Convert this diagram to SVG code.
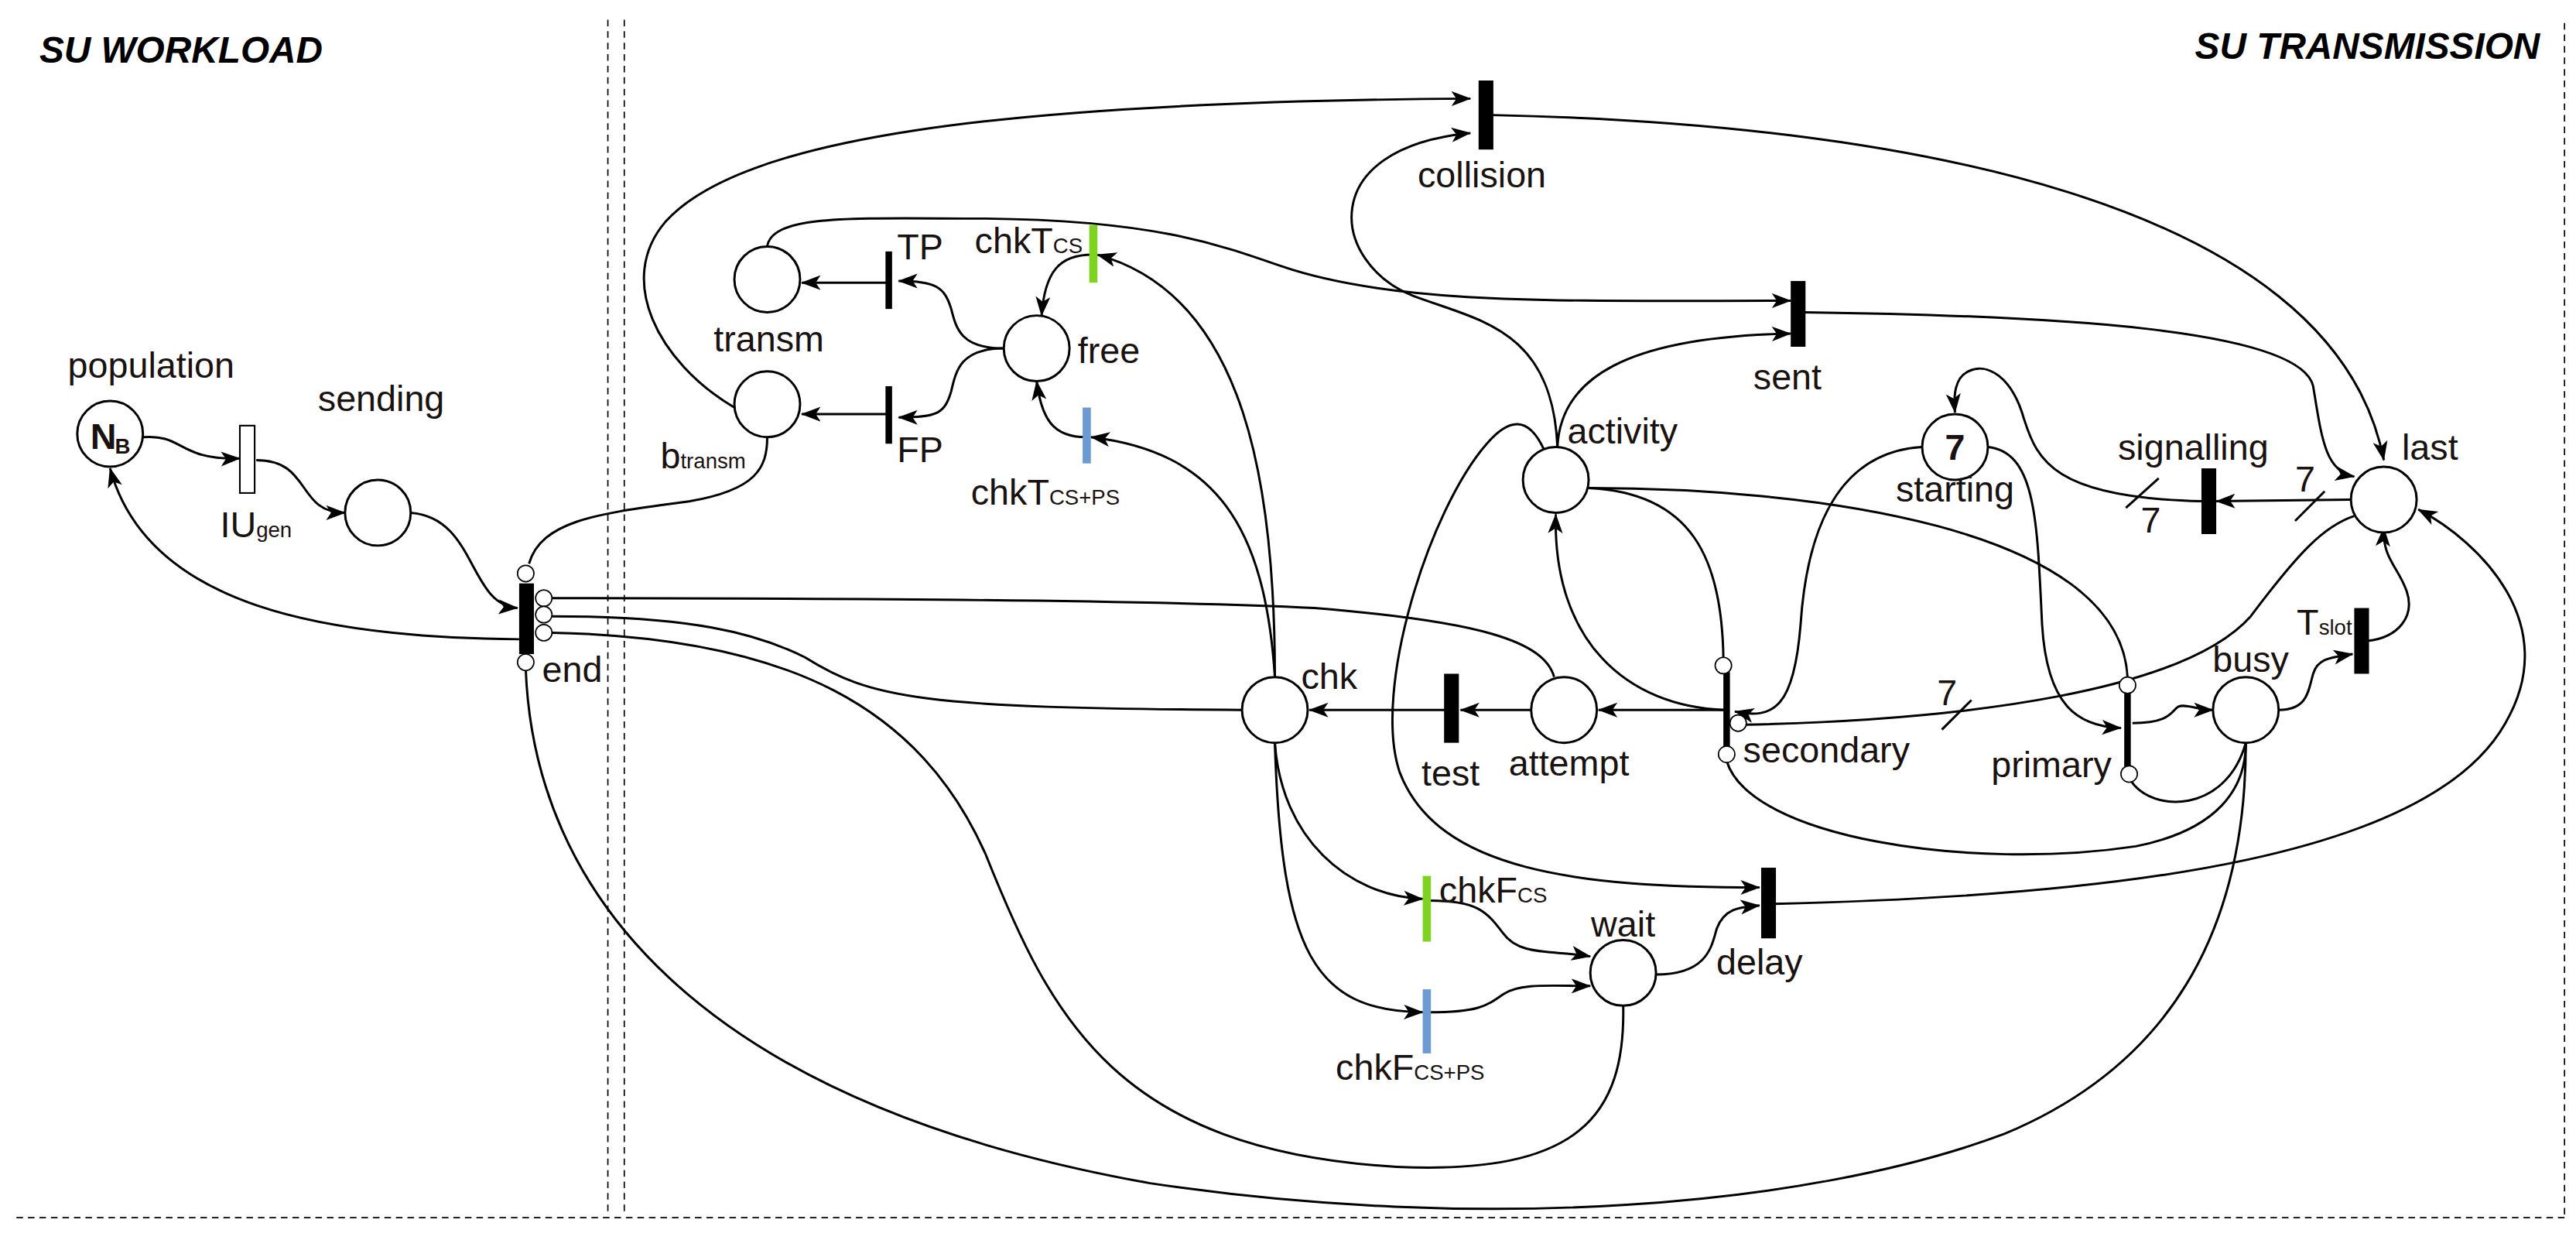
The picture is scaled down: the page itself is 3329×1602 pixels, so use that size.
<svg xmlns="http://www.w3.org/2000/svg" width="3329" height="1602" viewBox="0 0 3329 1602">
<defs>
<marker id="ar" markerWidth="12" markerHeight="10" refX="11.5" refY="4.5" orient="auto" markerUnits="userSpaceOnUse">
<path d="M0,0 L12,4.5 L0,9 L3,4.5 Z" fill="#000"/>
</marker>
<style>
.pl{fill:#fff;stroke:#000;stroke-width:1.4}
.inh{fill:#fff;stroke:#000;stroke-width:0.8}
.tr{fill:#000}
.e{fill:none;stroke:#000;stroke-width:1.4}
.a{marker-end:url(#ar)}
.d{fill:none;stroke:#000;stroke-width:0.8;stroke-dasharray:4,3}
text{font-family:"Liberation Sans",Arial,sans-serif;font-size:22px;fill:#1a1210}
.sub{font-size:13px}
.ttl{font-weight:bold;font-style:italic;font-size:22.5px;fill:#000}
</style>
</defs>
<rect width="3329" height="1602" fill="#fff"/>
<g transform="scale(2.1231)">
<g id="frame">
<line class="d" x1="370" y1="12" x2="370" y2="738"/>
<line class="d" x1="380" y1="12" x2="380" y2="738"/>
<line class="d" x1="1561" y1="14" x2="1561" y2="740"/>
<line class="d" x1="10" y1="741" x2="1561" y2="741"/>
<text class="ttl" x="24" y="38">SU WORKLOAD</text>
<text class="ttl" x="1546" y="36" text-anchor="end">SU TRANSMISSION</text>
</g>
<g id="connectors">
<path class="e a" d="M87,266 C112,264 108,280 146,279"/>
<path class="e a" d="M156,280 C190,280 180,312 210,312"/>
<path class="e a" d="M250,312 C290,315 285,368 315,370"/>
<path class="e a" d="M316,389 C200,388 90,370 67,285"/>
<path class="e" d="M322,343 C330,315 370,312 420,305 C460,298 467,285 467,266"/>
<path class="e" d="M336,364 C500,364 700,365 800,370 C900,378 940,390 946,412"/>
<path class="e" d="M336,375 C420,375 460,385 490,400 C530,425 560,431 756,432"/>
<path class="e" d="M336,385 C480,388 560,430 600,520 C640,620 680,700 850,710 C960,715 990,680 988,610"/>
<path class="e" d="M320,407 C325,540 420,670 700,720 C900,750 1100,735 1220,690 C1340,640 1367,540 1367,452"/>
<path class="e a" d="M541,172 L488,172"/>
<path class="e a" d="M541,252 L488,252"/>
<path class="e a" d="M611,212 C585,212 582,200 579,188 C575,175 570,171 547,171"/>
<path class="e a" d="M611,212 C585,212 582,225 579,238 C575,252 570,254 547,254"/>
<path class="e a" d="M665,155 C645,155 636,165 634,192"/>
<path class="e a" d="M661,266 C641,266 634,255 631,232"/>
<path class="e a" d="M776,412 C776,300 760,180 668,155"/>
<path class="e a" d="M776,412 C770,320 740,275 664,266"/>
<path class="e a" d="M467,150 C470,130 520,133 600,133 C700,134 740,148 780,162 C850,186 950,183 1090,183"/>
<path class="e a" d="M447,248 C400,220 375,170 405,135 C450,85 600,62 895,60"/>
<path class="e a" d="M948,272 C945,200 900,195 860,180 C810,160 800,90 895,81"/>
<path class="e a" d="M948,272 C950,230 990,205 1090,203"/>
<path class="e a" d="M908,70 C1150,75 1420,120 1451,280"/>
<path class="e a" d="M1098,190 C1250,192 1400,200 1408,235 C1413,265 1415,287 1433,290"/>
<path class="e a" d="M940,274 C930,252 918,255 905,270 C870,310 835,420 852,470 C875,530 960,540 1071,540"/>
<path class="e a" d="M1170,272 C1120,275 1100,320 1096,380 C1092,430 1080,438 1056,433"/>
<path class="e a" d="M1210,272 C1240,275 1240,320 1243,380 C1246,430 1265,442 1291,443"/>
<path class="e" d="M967,297 C1100,297 1290,320 1295,412"/>
<path class="e" d="M967,297 C1030,300 1048,340 1049,400"/>
<path class="e a" d="M1050,432 C990,430 945,390 947,313"/>
<path class="e a" d="M1049,432 L973,432"/>
<path class="e a" d="M932,432 L889,432"/>
<path class="e a" d="M880,432 L797,432"/>
<path class="e a" d="M776,452 C780,510 820,545 866,547"/>
<path class="e a" d="M776,452 C780,580 800,615 866,616"/>
<path class="e a" d="M870,548 C900,548 905,555 915,568 C925,582 945,578 968,582"/>
<path class="e a" d="M870,616 C900,616 905,612 915,605 C925,598 945,600 968,600"/>
<path class="e a" d="M1008,593 C1040,593 1042,575 1045,565 C1050,552 1060,552 1071,551"/>
<path class="e a" d="M1080,550 C1300,545 1480,520 1525,440 C1560,380 1510,330 1472,310"/>
<path class="e" d="M1051,463 C1065,510 1200,530 1300,515 C1350,505 1367,480 1367,452"/>
<path class="e" d="M1297,475 C1310,495 1355,495 1367,452"/>
<path class="e a" d="M1298,440 C1322,440 1322,432 1326,430 C1330,428 1338,432 1347,432"/>
<path class="e a" d="M1387,432 C1405,432 1405,420 1408,410 C1411,400 1420,400 1432,398"/>
<path class="e a" d="M1441,390 C1460,388 1470,375 1465,360 C1460,345 1450,340 1451,321"/>
<path class="e a" d="M1431,304 L1349,305"/>
<path class="e a" d="M1340,305 C1250,303 1240,280 1232,255 C1225,230 1210,220 1198,226 C1190,230 1189,240 1190,251"/>
<path class="e" d="M1062,441 C1200,438 1330,420 1370,375 C1400,335 1415,320 1433,314"/>
<line class="e" x1="1294" y1="309" x2="1314" y2="291"/>
<line class="e" x1="1397" y1="317" x2="1415" y2="299"/>
<line class="e" x1="1182" y1="444" x2="1200" y2="426"/>
<text x="1303" y="324">7</text>
<text x="1397" y="299">7</text>
<text x="1179" y="429">7</text>
</g>
<g id="population"><circle class="pl" cx="67" cy="264" r="20"/><text x="55" y="273" font-weight="bold" fill="#000">N</text><text x="70" y="276" class="sub" font-weight="bold" fill="#000">B</text><text x="92" y="230" text-anchor="middle">population</text></g>
<g id="IUgen"><rect x="146" y="259" width="9" height="41" fill="#fff" stroke="#000" stroke-width="1"/><text x="134" y="327">IU<tspan class="sub">gen</tspan></text></g>
<g id="sending"><circle class="pl" cx="230" cy="312" r="20"/><text x="232" y="250" text-anchor="middle">sending</text></g>
<g id="end"><rect class="tr" x="316" y="355" width="9" height="43"/><circle class="inh" cx="320" cy="349" r="5"/><circle class="inh" cx="331" cy="364" r="5"/><circle class="inh" cx="331" cy="374" r="5"/><circle class="inh" cx="331" cy="385" r="5"/><circle class="inh" cx="320" cy="403" r="5"/><text x="330" y="415">end</text></g>
<g id="transm"><circle class="pl" cx="467" cy="170" r="20"/><text x="468" y="214" text-anchor="middle">transm</text></g>
<g id="btransm"><circle class="pl" cx="467" cy="246" r="20"/><text x="402" y="285">b<tspan class="sub">transm</tspan></text></g>
<g id="TP"><rect class="tr" x="539" y="153" width="4" height="35"/><text x="546" y="158">TP</text></g>
<g id="FP"><rect class="tr" x="539" y="235" width="4" height="35"/><text x="546" y="281">FP</text></g>
<g id="free"><circle class="pl" cx="631" cy="212" r="20"/><text x="656" y="221">free</text></g>
<g id="chkTCS"><rect x="663" y="137" width="5" height="35" fill="#7ed321"/><text x="659" y="154" text-anchor="end">chkT<tspan class="sub">CS</tspan></text></g>
<g id="chkTCSPS"><rect x="659" y="248" width="5" height="34" fill="#6b9bd2"/><text x="591" y="307">chkT<tspan class="sub">CS+PS</tspan></text></g>
<g id="collision"><rect class="tr" x="900" y="49" width="9" height="42"/><text x="902" y="114" text-anchor="middle">collision</text></g>
<g id="sent"><rect class="tr" x="1090" y="171" width="9" height="40"/><text x="1088" y="237" text-anchor="middle">sent</text></g>
<g id="activity"><circle class="pl" cx="947" cy="292" r="20"/><text x="954" y="270">activity</text></g>
<g id="starting"><circle class="pl" cx="1190" cy="272" r="20"/><text x="1190" y="280" text-anchor="middle" font-weight="bold" fill="#000">7</text><text x="1190" y="305" text-anchor="middle">starting</text></g>
<g id="signalling"><rect class="tr" x="1340" y="285" width="9" height="40"/><text x="1335" y="280" text-anchor="middle">signalling</text></g>
<g id="last"><circle class="pl" cx="1451" cy="304" r="20"/><text x="1462" y="280">last</text></g>
<g id="Tslot"><rect class="tr" x="1433" y="370" width="9" height="40"/><text x="1398" y="386">T<tspan class="sub">slot</tspan></text></g>
<g id="busy"><circle class="pl" cx="1367" cy="432" r="20"/><text x="1370" y="409" text-anchor="middle">busy</text></g>
<g id="primary"><rect class="tr" x="1293" y="421" width="4" height="47"/><circle class="inh" cx="1295" cy="417" r="5"/><circle class="inh" cx="1296" cy="471" r="5"/><text x="1212" y="473">primary</text></g>
<g id="secondary"><rect class="tr" x="1049" y="409" width="4" height="50"/><circle class="inh" cx="1049" cy="405" r="5"/><circle class="inh" cx="1058" cy="440" r="5"/><circle class="inh" cx="1051" cy="459" r="5"/><text x="1061" y="464">secondary</text></g>
<g id="attempt"><circle class="pl" cx="952" cy="432" r="20"/><text x="955" y="472" text-anchor="middle">attempt</text></g>
<g id="test"><rect class="tr" x="879" y="410" width="9" height="42"/><text x="883" y="478" text-anchor="middle">test</text></g>
<g id="chk"><circle class="pl" cx="776" cy="432" r="20"/><text x="792" y="419">chk</text></g>
<g id="chkFCS"><rect x="866" y="533" width="5" height="40" fill="#7ed321"/><text x="876" y="549">chkF<tspan class="sub">CS</tspan></text></g>
<g id="chkFCSPS"><rect x="866" y="602" width="5" height="39" fill="#6b9bd2"/><text x="813" y="657">chkF<tspan class="sub">CS+PS</tspan></text></g>
<g id="wait"><circle class="pl" cx="988" cy="592" r="20"/><text x="988" y="570" text-anchor="middle">wait</text></g>
<g id="delay"><rect class="tr" x="1072" y="528" width="9" height="43"/><text x="1071" y="593" text-anchor="middle">delay</text></g>
</g>
</svg>
